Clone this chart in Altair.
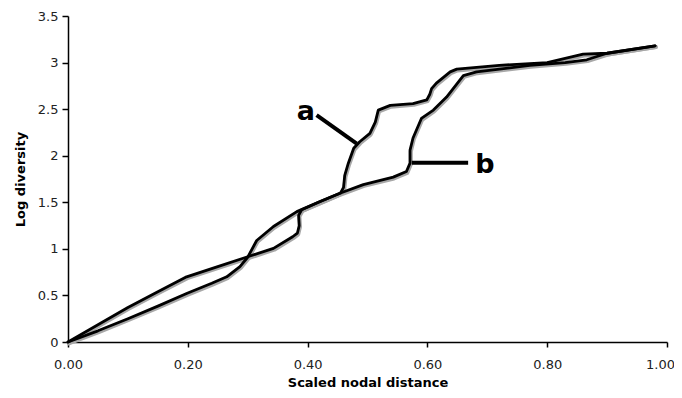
import altair as alt
import pandas as pd

# Curve a
a_x = [0.0, 0.05, 0.10, 0.15, 0.198, 0.24, 0.265, 0.287, 0.30, 0.315, 0.343, 0.382, 0.42, 0.455,
       0.46, 0.462, 0.468, 0.477, 0.487, 0.504, 0.513, 0.518, 0.538, 0.576, 0.599, 0.604, 0.607,
       0.615, 0.638, 0.649, 0.72, 0.80, 0.86, 0.90, 0.98]
a_y = [0.0, 0.12, 0.25, 0.385, 0.52, 0.63, 0.70, 0.81, 0.91, 1.09, 1.24, 1.40, 1.505, 1.60,
       1.66, 1.79, 1.92, 2.08, 2.15, 2.24, 2.36, 2.49, 2.54, 2.56, 2.60, 2.66, 2.72,
       2.78, 2.90, 2.93, 2.97, 3.00, 3.09, 3.10, 3.18]

# Curve b
b_x = [0.0, 0.05, 0.10, 0.15, 0.198, 0.25, 0.30, 0.343, 0.375, 0.383, 0.386, 0.385, 0.39, 0.42,
       0.455, 0.493, 0.543, 0.565, 0.571, 0.571, 0.576, 0.59, 0.61, 0.632, 0.66, 0.682, 0.771,
       0.83, 0.866, 0.90, 0.98]
b_y = [0.0, 0.185, 0.37, 0.54, 0.70, 0.81, 0.915, 1.005, 1.13, 1.17, 1.25, 1.36, 1.42, 1.505,
       1.60, 1.69, 1.77, 1.83, 1.92, 2.06, 2.19, 2.40, 2.49, 2.63, 2.86, 2.90, 2.97,
       3.00, 3.03, 3.10, 3.18]

# Leader lines and labels
lead_name = ["a", "a", "b", "b"]
lead_x = [0.415, 0.482, 0.574, 0.668]
lead_y = [2.436, 2.13, 1.924, 1.924]
lab_text = ["a", "b"]
lab_x = [0.397, 0.696]
lab_y = [2.38, 1.81]

rows = []
for i, (x, y) in enumerate(zip(a_x, a_y)):
    rows.append({"series": "a", "i": i, "x": x, "y": y})
for i, (x, y) in enumerate(zip(b_x, b_y)):
    rows.append({"series": "b", "i": i, "x": x, "y": y})
curves = pd.DataFrame(rows)

leads = pd.DataFrame({"name": lead_name, "x": lead_x, "y": lead_y,
                      "i": [0, 1, 0, 1]})
labels = pd.DataFrame({"t": lab_text, "x": lab_x, "y": lab_y})

xs = alt.Scale(domain=[0, 1], nice=False)
ys = alt.Scale(domain=[0, 3.5], nice=False)

xenc = alt.X("x:Q", scale=xs,
             axis=alt.Axis(title="Scaled nodal distance", values=[0, 0.2, 0.4, 0.6, 0.8, 1.0],
                           format=".2f", grid=False, tickSize=5, labelPadding=11,
                           titlePadding=5, labelFlush=False, labelOverlap=False,
                           labelOffset=alt.ExprRef("datum.value >= 0.99 ? -7 : 0")))
yenc = alt.Y("y:Q", scale=ys,
             axis=alt.Axis(title="Log diversity", values=[0, 0.5, 1, 1.5, 2, 2.5, 3, 3.5],
                           format=".1~f", grid=False, tickSize=6, labelPadding=4,
                           titlePadding=10, labelFlush=False, labelOverlap=False))

shadow = alt.Chart(curves).mark_line(color="#a8a8a8", strokeWidth=4, xOffset=0.8, yOffset=1.3,
                                     strokeJoin="round", strokeCap="round").encode(
    x=xenc, y=yenc, detail="series:N", order="i:Q")
line = alt.Chart(curves).mark_line(color="black", strokeWidth=2.8, strokeJoin="round",
                                   strokeCap="round").encode(
    x=alt.X("x:Q", scale=xs), y=alt.Y("y:Q", scale=ys), detail="series:N", order="i:Q")
lead = alt.Chart(leads).mark_line(color="black", strokeWidth=4).encode(
    x=alt.X("x:Q", scale=xs), y=alt.Y("y:Q", scale=ys), detail="name:N", order="i:Q")
text = alt.Chart(labels).mark_text(fontSize=27, fontWeight="bold", font="DejaVu Sans",
                                   color="black", baseline="alphabetic", align="center").encode(
    x=alt.X("x:Q", scale=xs), y=alt.Y("y:Q", scale=ys), text="t:N")

chart = (shadow + line + lead + text).properties(
    width=599, height=326,
    autosize=alt.AutoSizeParams(type="none"),
    padding={"left": 60, "top": 8, "right": 7, "bottom": 48},
).configure(background="white", font="DejaVu Sans").configure_view(stroke=None).configure_axis(
    domainColor="black", tickColor="black", labelColor="#222222",
    labelFont="DejaVu Sans", labelFontSize=13, titleFont="DejaVu Sans",
    titleFontSize=13, titleFontWeight="bold", titleColor="black", domainWidth=1.5,
    tickWidth=1.5
)

chart.save("out.html", embed_options={"renderer": "svg", "actions": False})
